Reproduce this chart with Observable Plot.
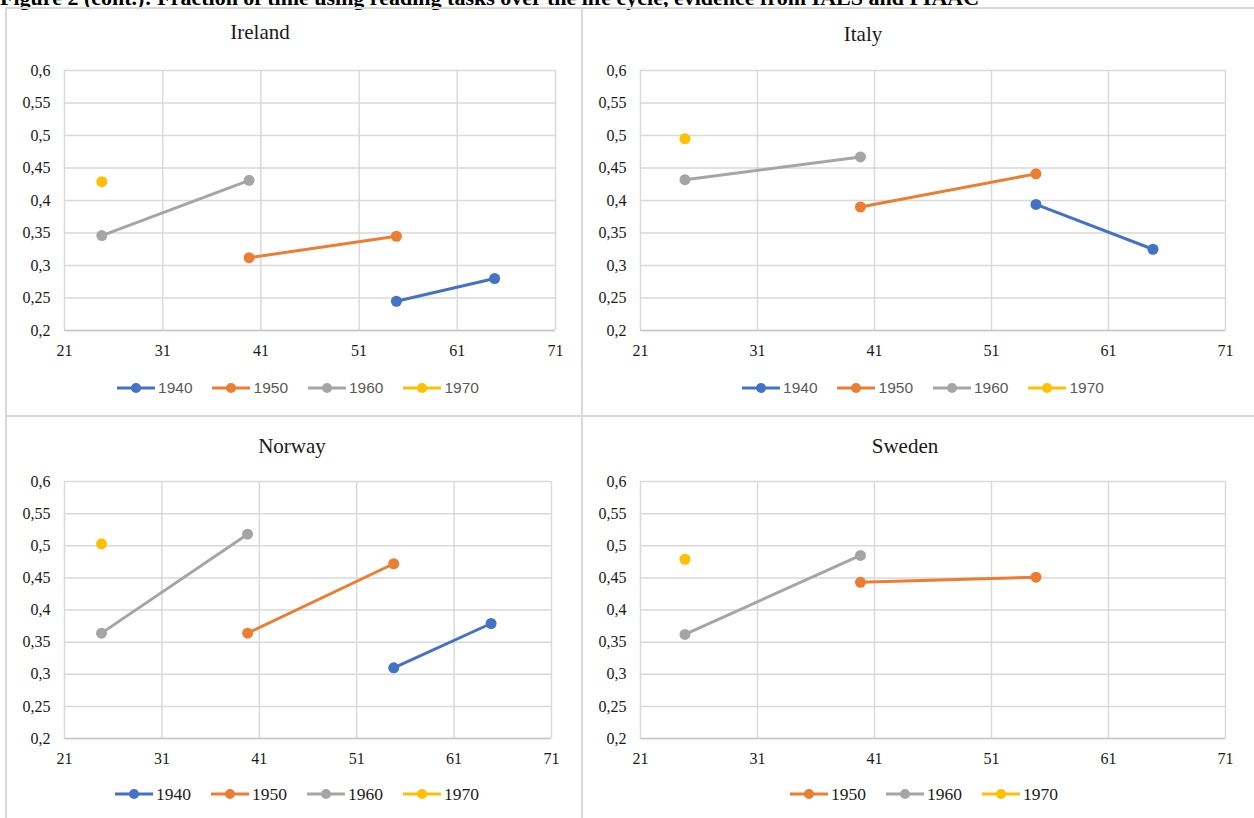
<!DOCTYPE html>
<html>
<head>
<meta charset="utf-8">
<script src="https://cdn.jsdelivr.net/npm/d3@7"></script>
<script src="https://cdn.jsdelivr.net/npm/@observablehq/plot@0.6"></script>
<style>
  html, body { margin: 0; padding: 0; background: #fff; }
  #wrap { position: relative; width: 1254px; height: 818px; overflow: hidden; background: #fff; }
  .line { position: absolute; background: #d9d9d9; }
  .ptitle { position: absolute; font-family: "Liberation Serif", serif; font-size: 21px; color: #1a1a1a; transform: translateX(-50%); white-space: nowrap; line-height: 24px; }
  .legend { position: absolute; display: flex; align-items: center; transform: translateX(-50%); white-space: nowrap; }
  .legend .item { display: flex; align-items: center; margin: 0 10px; }
  .legend svg { display: block; }
  .legend span { margin-left: 3px; }
  .sans { font-family: "Liberation Sans", sans-serif; font-size: 15.5px; color: #595959; }
  .serif { font-family: "Liberation Serif", serif; font-size: 17.5px; color: #1a1a1a; }
  .panel { position: absolute; }
  #fig { position: absolute; left: 0; top: -13px; font-family: "Liberation Serif", serif; font-weight: bold; font-size: 22px; line-height: 22px; color: #000; white-space: nowrap; }
</style>
</head>
<body>
<div id="wrap"></div>
<script>
// ---- data ----
const cohorts = ["1940", "1950", "1960", "1970"];
const cohortColors = ["#4472C4", "#ED7D31", "#A5A5A5", "#FFC000"];
const ages = [24.8, 39.8, 54.8, 64.8];
const xTicks = [21, 31, 41, 51, 61, 71];
const yTicks = [0.2, 0.25, 0.3, 0.35, 0.4, 0.45, 0.5, 0.55, 0.6];

// rows: cohort, columns: ages
const irelandValues = [
  [null, null, 0.245, 0.280],
  [null, 0.312, 0.345, null],
  [0.346, 0.431, null, null],
  [0.429, null, null, null]
];
const italyValues = [
  [null, null, 0.394, 0.325],
  [null, 0.390, 0.441, null],
  [0.432, 0.467, null, null],
  [0.495, null, null, null]
];
const norwayValues = [
  [null, null, 0.310, 0.379],
  [null, 0.364, 0.472, null],
  [0.364, 0.518, null, null],
  [0.503, null, null, null]
];
const swedenValues = [
  [null, null, null, null],
  [null, 0.443, 0.451, null],
  [0.362, 0.485, null, null],
  [0.479, null, null, null]
];
const swedenCohorts = ["1950", "1960", "1970"];

const figTitle = "Figure 2 (cont.): Fraction of time using reading tasks over the life cycle, evidence from IALS and PIAAC";

// ---- layout ----
const wrap = document.getElementById("wrap");
const fig = document.createElement("div");
fig.id = "fig"; fig.textContent = figTitle; wrap.appendChild(fig);

function addLine(l, t, w, h) {
  const d = document.createElement("div");
  d.className = "line";
  Object.assign(d.style, {left: l + "px", top: t + "px", width: w + "px", height: h + "px"});
  wrap.appendChild(d);
}
addLine(5, 7, 1260, 2);     // top border
addLine(5, 7, 2, 820);      // left border
addLine(581, 7, 2, 820);    // middle vertical
addLine(5, 415, 1260, 2);   // middle horizontal

function rowsOf(values) {
  const rows = [];
  values.forEach((r, i) => r.forEach((v, j) => {
    if (v != null) rows.push({cohort: cohorts[i], age: ages[j], value: v});
  }));
  return rows;
}

const fmt = d => String(+d.toFixed(2)).replace(".", ",");

function panel(cfg) {
  const rows = rowsOf(cfg.values);
  const chart = Plot.plot({
    width: cfg.width, height: cfg.height,
    marginLeft: cfg.ml, marginRight: cfg.mr, marginTop: cfg.mt, marginBottom: cfg.mb,
    style: {fontFamily: "Liberation Serif, serif", fontSize: "16px", color: "#1a1a1a", background: "transparent"},
    x: {domain: [21, 71], ticks: xTicks, tickSize: 0, tickPadding: 14, label: null},
    y: {domain: [0.2, 0.6], ticks: yTicks, tickSize: 0, tickPadding: 14, tickFormat: fmt, label: null},
    color: {domain: cohorts, range: cohortColors},
    marks: [
      Plot.gridX(xTicks, {stroke: "#d9d9d9", strokeOpacity: 1, strokeWidth: 1.5}),
      Plot.gridY(yTicks, {stroke: "#d9d9d9", strokeOpacity: 1, strokeWidth: 1.5}),
      Plot.ruleY([0.2], {stroke: "#c8c8c8", strokeWidth: 1.5}),
      Plot.line(rows, {x: "age", y: "value", z: "cohort", stroke: "cohort", strokeWidth: 3}),
      Plot.dot(rows, {x: "age", y: "value", fill: "cohort", r: 5.5})
    ]
  });
  chart.classList.add("panel");
  chart.style.left = cfg.left + "px";
  chart.style.top = cfg.top + "px";
  wrap.appendChild(chart);

  const t = document.createElement("div");
  t.className = "ptitle"; t.textContent = cfg.title;
  t.style.left = cfg.tx + "px"; t.style.top = (cfg.ty - 12) + "px";
  wrap.appendChild(t);

  const lg = document.createElement("div");
  lg.className = "legend " + cfg.lfont;
  lg.style.left = cfg.lx + "px"; lg.style.top = (cfg.ly - 12) + "px"; lg.style.height = "24px";
  cfg.legend.forEach(c => {
    const col = cohortColors[cohorts.indexOf(c)];
    const it = document.createElement("div");
    it.className = "item";
    it.innerHTML = `<svg width="38" height="14"><line x1="0" y1="7" x2="38" y2="7" stroke="${col}" stroke-width="3"/><circle cx="19" cy="7" r="5" fill="${col}"/></svg><span>${c}</span>`;
    lg.appendChild(it);
  });
  wrap.appendChild(lg);
}

panel({title: "Ireland", values: irelandValues, left: 0, top: 0, width: 583, height: 416,
  ml: 64, mr: 28, mt: 70, mb: 86, tx: 260, ty: 32, lx: 298, ly: 388, lfont: "sans", legend: cohorts});
panel({title: "Italy", values: italyValues, left: 583, top: 0, width: 671, height: 416,
  ml: 57, mr: 29, mt: 70, mb: 86, tx: 863, ty: 34, lx: 923, ly: 388, lfont: "sans", legend: cohorts});
panel({title: "Norway", values: norwayValues, left: 0, top: 416, width: 583, height: 402,
  ml: 64, mr: 32, mt: 65, mb: 80, tx: 292, ty: 446, lx: 297, ly: 794, lfont: "serif", legend: cohorts});
panel({title: "Sweden", values: swedenValues, left: 583, top: 416, width: 671, height: 402,
  ml: 57, mr: 29, mt: 65, mb: 80, tx: 905, ty: 446, lx: 924, ly: 794, lfont: "serif", legend: swedenCohorts});
</script>
</body>
</html>
